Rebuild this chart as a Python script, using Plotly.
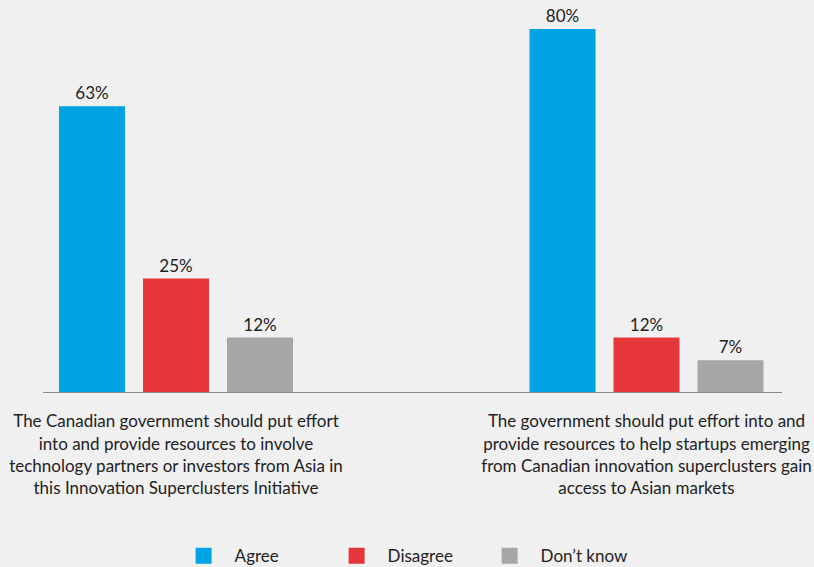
import plotly.graph_objects as go

categories = [
    "The Canadian government should put effort<br>into and provide resources to involve<br>technology partners or investors from Asia in<br>this Innovation Superclusters Initiative",
    "The government should put effort into and<br>provide resources to help startups emerging<br>from Canadian innovation superclusters gain<br>access to Asian markets",
]
series_names = ["Agree", "Disagree", "Don\u2019t know"]
agree = [63, 80]
disagree = [25, 12]
dont_know = [12, 7]
colors = ["#00A3E3", "#E5363B", "#A6A6A6"]

x_pos = [0, 1]
fig = go.Figure()
for name, vals, col in zip(series_names, [agree, disagree, dont_know], colors):
    fig.add_trace(go.Bar(
        x=x_pos, y=vals, name=name, marker_color=col, marker_line_width=0,
        text=[f"{v}%" for v in vals], textposition="outside",
        textfont=dict(size=17, color="#222222", family="Lato"),
        cliponaxis=False, showlegend=False,
    ))
    fig.add_trace(go.Scatter(
        x=[None], y=[None], mode="markers", name=name,
        marker=dict(symbol="square", size=18, color=col),
    ))

fig.update_layout(
    width=814, height=567,
    paper_bgcolor="#F0F0F0", plot_bgcolor="#F0F0F0",
    margin=dict(l=43, r=32, t=10, b=175, autoexpand=False),
    barmode="group", bargap=0.4644, bargroupgap=0.214,
    font=dict(family="Lato", size=17, color="#222222"),
    xaxis=dict(
        tickmode="array", tickvals=x_pos, ticktext=categories,
        range=[-0.2827, 1.288], showline=True, linecolor="#888888", linewidth=1,
        showgrid=False, zeroline=False, ticks="", ticklabelstandoff=14,
        tickfont=dict(size=17, color="#222222"),
    ),
    yaxis=dict(range=[0, 84.2], visible=False, showgrid=False, zeroline=False),
    legend=dict(
        orientation="h", x=0.1754, xanchor="left", y=-0.43, yanchor="middle",
        itemwidth=52, entrywidth=86, entrywidthmode="pixels",
        font=dict(size=17, color="#222222"), bgcolor="rgba(0,0,0,0)",
    ),
)

fig.write_html("out.html", config={"displayModeBar": False},
               post_script="document.body.style.margin='0';")
